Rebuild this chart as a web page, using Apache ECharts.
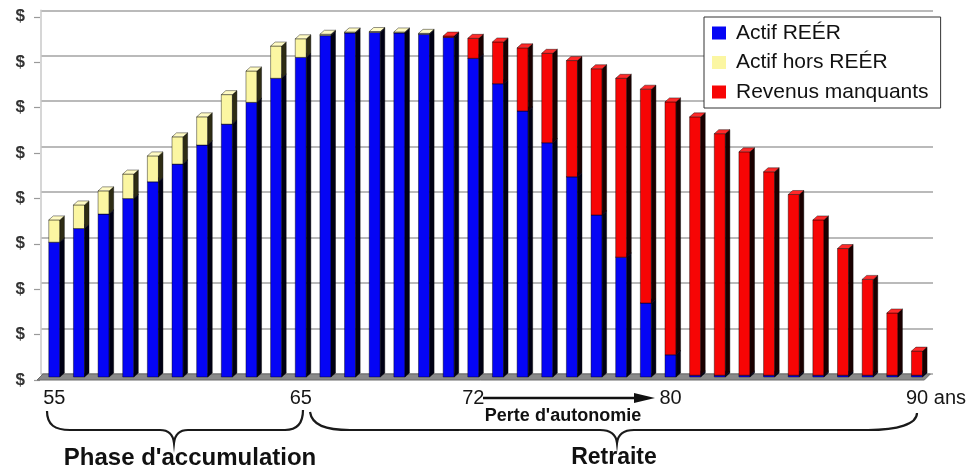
<!DOCTYPE html>
<html><head><meta charset="utf-8">
<script src="https://cdn.jsdelivr.net/npm/echarts@6/dist/echarts.min.js"></script>
<style>html,body{margin:0;padding:0;background:#fff}#c{width:969px;height:470px}</style>
</head><body><div id="c"></div>
<script>
// ---- data ----
const ages = ['55','56','57','58','59','60','61','62','63','64','65','66','67','68','69','70','71','72',
              '73','74','75','76','77','78','79','80','81','82','83','84','85','86','87','88','89','90'];
const actifREER = [2.97,3.27,3.59,3.93,4.30,4.69,5.11,5.57,6.05,6.58,7.04,7.52,7.58,7.59,7.58,7.55,7.48,7.02,
                   6.46,5.86,5.16,4.41,3.57,2.64,1.63,0.49,0.04,0.04,0.04,0.04,0.04,0.04,0.04,0.04,0.04,0.04];
const actifHorsREER = [0.49,0.52,0.51,0.54,0.57,0.60,0.62,0.65,0.69,0.71,0.41,0.03,0.02,0.02,0.02,0.02,0,0,
                       0,0,0,0,0,0,0,0,0,0,0,0,0,0,0,0,0,0];
const revenusManquants = [0,0,0,0,0,0,0,0,0,0,0,0,0,0,0,0,0.03,0.44,
                          0.92,1.39,1.97,2.56,3.22,3.94,4.71,5.57,5.69,5.32,4.92,4.48,3.98,3.42,2.79,2.11,1.37,0.53];
const seriesNames = ['Actif REÉR','Actif hors REÉR','Revenus manquants'];
const labeledAges = ['55','65','72','80','90'];
const yMax = 8;

// ---- build stacked segments ----
const stacks = [actifREER, actifHorsREER, revenusManquants];
const segData = stacks.map(() => []);
ages.forEach((a, i) => {
  let base = 0;
  stacks.forEach((arr, s) => {
    segData[s].push([i, base, base + arr[i]]);
    base += arr[i];
  });
});

const DX = 4.5, DY = 4;
const faceColors = [
  {front:'#0505f5', side:'#000014', top:'#2a2aff'},
  {front:'#fbf6a2', side:'#2e2c14', top:'#fffbc4'},
  {front:'#f70505', side:'#1a0000', top:'#ff2a2a'}
];
const edge = 'rgba(0,0,0,0.6)';
function makeRender(c){
  return function(params, api){
    const i = api.value(0), b = api.value(1), t = api.value(2);
    if (!(t - b > 0)) return;
    const pb = api.coord([i, b]), pt = api.coord([i, t]);
    const w = api.size([1, 0])[0] * 0.45;
    const x0 = pb[0] - w / 2, x1 = pb[0] + w / 2, yb = pb[1], yt = pt[1];
    return {type:'group', children:[
      {type:'rect', shape:{x:x0, y:yt, width:w, height:yb - yt}, style:{fill:c.front, stroke:edge, lineWidth:0.7}},
      {type:'polygon', shape:{points:[[x1,yb],[x1+DX,yb-DY],[x1+DX,yt-DY],[x1,yt]]}, style:{fill:c.side, stroke:edge, lineWidth:0.7}},
      {type:'polygon', shape:{points:[[x0,yt],[x1,yt],[x1+DX,yt-DY],[x0+DX,yt-DY]]}, style:{fill:c.top, stroke:edge, lineWidth:0.7}}
    ]};
  };
}
function renderFloor(params, api){
  const bw = api.size([1, 0])[0];
  const p0 = api.coord([0, 0]), p1 = api.coord([ages.length - 1, 0]);
  const xl = p0[0] - bw / 2 - 5, xr = p1[0] + bw / 2 - 5, yf = p0[1] + 3;
  return {type:'polygon', shape:{points:[[xl,yf],[xr,yf],[xr+6,yf-6],[xl+6,yf-6]]},
          style:{fill:'#8a8a8a', stroke:'#6a6a6a', lineWidth:1}};
}
function renderBraces(){
  return {type:'group', children:[
    {type:'path', shape:{pathData:'M47,411 C47,425 55,430 70,430 L160,430 C168,430 173,434 174,443 C175,434 180,430 188,430 L285,430 C298,430 303,422 303,410'},
     style:{fill:'none', stroke:'#1a1a1a', lineWidth:2.2}},
    {type:'path', shape:{pathData:'M310,412 C312,425 325,430 350,430 L600,430 C610,430 616,434 617,443 C618,434 624,430 634,430 L868,430 C898,430 917,424 917,413'},
     style:{fill:'none', stroke:'#1a1a1a', lineWidth:2.2}}
  ]};
}

const chart = echarts.init(document.getElementById('c'));
const series = [{
  type:'custom', name:'floor', xAxisIndex:0, yAxisIndex:0, z:1, silent:true,
  renderItem: renderFloor, data:[[0]]
},{
  type:'custom', name:'braces', xAxisIndex:0, yAxisIndex:0, z:1, silent:true, clip:false,
  renderItem: renderBraces, data:[[0]]
}];
seriesNames.forEach((n, s) => {
  series.push({
    type:'custom', name:n, xAxisIndex:0, yAxisIndex:0, z:2,
    itemStyle:{color:faceColors[s].front},
    encode:{x:0, y:2},
    renderItem: makeRender(faceColors[s]),
    data: segData[s]
  });
});

chart.setOption({
  backgroundColor:'#fff',
  animation:false,
  textStyle:{fontFamily:'"Liberation Sans", Arial, sans-serif'},
  grid:[
    {left:42, right:37, top:13.8, bottom:93},
    {left:34, right:37, top:16.8, bottom:90},
    {left:41, right:36, top:10.3, bottom:96}
  ],
  xAxis:[
    {type:'category', gridIndex:0, data:ages, boundaryGap:true,
     axisLine:{show:false}, axisTick:{show:false},
     axisLabel:{
       interval:(idx) => labeledAges.includes(ages[idx]),
       formatter:(v) => v === '90' ? '{sp|}90 ans' : v,
       rich:{sp:{width:38, fontSize:20}},
       fontSize:20, color:'#161616', margin:11
     }},
    {type:'value', gridIndex:1, min:0, max:1, show:false},
    {type:'value', gridIndex:2, min:0, max:1, show:false}
  ],
  yAxis:[
    {type:'value', gridIndex:0, min:0, max:yMax, interval:1, show:false},
    {type:'value', gridIndex:1, min:0, max:yMax, interval:1,
     axisLine:{show:false}, splitLine:{show:false},
     axisTick:{show:true, inside:true, length:6, lineStyle:{color:'#9a9a9a', width:1.2}},
     axisLabel:{formatter:() => '$', fontSize:17, fontWeight:'bold', color:'#333', margin:9}},
    {type:'value', gridIndex:2, min:0, max:yMax, interval:1,
     axisLine:{show:true, lineStyle:{color:'#c8c8c8', width:1.5}},
     axisTick:{show:false}, axisLabel:{show:false},
     splitLine:{show:true, lineStyle:{color:'#a3a3a3', width:1.5}}}
  ],
  legend:{
    data:seriesNames, orient:'vertical', left:704, top:17,
    icon:'rect', itemWidth:14, itemHeight:13, itemGap:8.5,
    padding:[5.5,12,5.5,8],
    backgroundColor:'#fff', borderColor:'#333', borderWidth:1,
    textStyle:{fontSize:21, color:'#111', padding:[0,0,0,5]}
  },
  graphic:[
    {type:'line', shape:{x1:483, y1:398, x2:640, y2:398}, style:{stroke:'#111', lineWidth:2.5}},
    {type:'polygon', shape:{points:[[634,393],[655,398],[634,403]]}, style:{fill:'#111'}},
    {type:'text', x:563, y:416, style:{text:"Perte d'autonomie", font:'bold 18px "Liberation Sans", Arial, sans-serif', fill:'#111', align:'center', verticalAlign:'middle'}},
    {type:'text', x:190, y:458, style:{text:"Phase d'accumulation", font:'bold 24px "Liberation Sans", Arial, sans-serif', fill:'#111', align:'center', verticalAlign:'middle'}},
    {type:'text', x:614, y:458, style:{text:'Retraite', font:'bold 23px "Liberation Sans", Arial, sans-serif', fill:'#111', align:'center', verticalAlign:'middle'}}
  ],
  series: series
});
</script>
</body></html>
